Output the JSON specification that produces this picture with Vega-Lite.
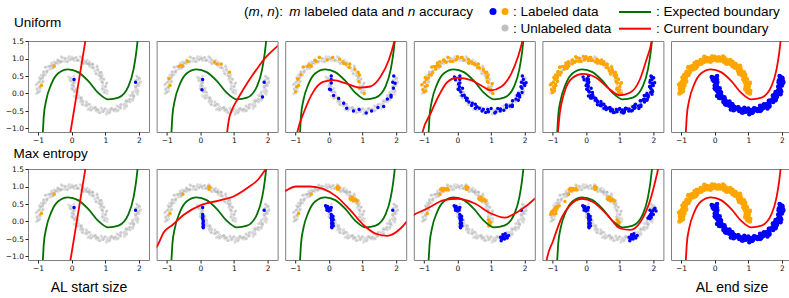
{
"$schema":"https://vega.github.io/schema/vega-lite/v6.json",
"padding":0,"background":"white","spacing":0,
"resolve":{"scale":{"x":"independent","y":"independent","color":"independent"}},
"datasets":{
"moons":[
{"x":1.05,"y":0.0,"c":0,"u":3},{"x":0.96,"y":0.05,"c":0,"u":5},{"x":1.0,"y":0.11,"c":0,"u":4},{"x":0.92,"y":0.15,"c":0,"u":3},{"x":1.01,"y":0.21,"c":0,"u":6},{"x":1.03,"y":0.28,"c":0,"u":4},{"x":0.93,"y":0.3,"c":0,"u":5},{"x":0.89,"y":0.34,"c":0,"u":3},{"x":0.95,"y":0.42,"c":0,"u":5},{"x":0.88,"y":0.45,"c":0,"u":4},
{"x":0.91,"y":0.53,"c":0,"u":3},{"x":0.81,"y":0.52,"c":0,"u":6},{"x":0.82,"y":0.59,"c":0,"u":4},{"x":0.72,"y":0.58,"c":0,"u":5},{"x":0.77,"y":0.69,"c":0,"u":3},{"x":0.76,"y":0.76,"c":0,"u":5},{"x":0.66,"y":0.73,"c":0,"u":4},{"x":0.6,"y":0.74,"c":0,"u":3},{"x":0.61,"y":0.84,"c":0,"u":6},{"x":0.54,"y":0.83,"c":0,"u":4},
{"x":0.53,"y":0.91,"c":0,"u":5},{"x":0.44,"y":0.86,"c":0,"u":3},{"x":0.41,"y":0.92,"c":0,"u":5},{"x":0.33,"y":0.87,"c":0,"u":4},{"x":0.32,"y":0.98,"c":0,"u":3},{"x":0.28,"y":1.03,"c":0,"u":6},{"x":0.2,"y":0.96,"c":0,"u":4},{"x":0.15,"y":0.94,"c":0,"u":5},{"x":0.11,"y":1.03,"c":0,"u":3},{"x":0.05,"y":0.99,"c":0,"u":5},
{"x":0.0,"y":1.05,"c":0,"u":4},{"x":-0.05,"y":0.96,"c":0,"u":3},{"x":-0.11,"y":1.0,"c":0,"u":6},{"x":-0.15,"y":0.92,"c":0,"u":4},{"x":-0.21,"y":1.01,"c":0,"u":5},{"x":-0.28,"y":1.03,"c":0,"u":3},{"x":-0.3,"y":0.93,"c":0,"u":5},{"x":-0.34,"y":0.89,"c":0,"u":4},{"x":-0.42,"y":0.95,"c":0,"u":3},{"x":-0.45,"y":0.88,"c":0,"u":6},
{"x":-0.53,"y":0.91,"c":0,"u":4},{"x":-0.52,"y":0.81,"c":0,"u":5},{"x":-0.59,"y":0.82,"c":0,"u":3},{"x":-0.58,"y":0.72,"c":0,"u":5},{"x":-0.69,"y":0.77,"c":0,"u":4},{"x":-0.76,"y":0.76,"c":0,"u":3},{"x":-0.73,"y":0.66,"c":0,"u":6},{"x":-0.74,"y":0.6,"c":0,"u":4},{"x":-0.84,"y":0.61,"c":0,"u":5},{"x":-0.83,"y":0.54,"c":0,"u":3},
{"x":-0.91,"y":0.53,"c":0,"u":5},{"x":-0.86,"y":0.44,"c":0,"u":4},{"x":-0.92,"y":0.41,"c":0,"u":3},{"x":-0.87,"y":0.33,"c":0,"u":6},{"x":-0.98,"y":0.32,"c":0,"u":4},{"x":-1.03,"y":0.28,"c":0,"u":5},{"x":-0.96,"y":0.2,"c":0,"u":3},{"x":-0.94,"y":0.15,"c":0,"u":5},{"x":-1.03,"y":0.11,"c":0,"u":4},{"x":-0.99,"y":0.05,"c":0,"u":3},
{"x":-1.05,"y":0.0,"c":0,"u":6},
{"x":0.98,"y":0.03,"c":0,"u":5},{"x":1.06,"y":0.08,"c":0,"u":6},{"x":0.91,"y":0.12,"c":0,"u":4},{"x":1.0,"y":0.19,"c":0,"u":5},{"x":0.92,"y":0.22,"c":0,"u":6},{"x":1.05,"y":0.31,"c":0,"u":5},{"x":0.91,"y":0.32,"c":0,"u":4},{"x":0.96,"y":0.4,"c":0,"u":5},{"x":0.85,"y":0.41,"c":0,"u":6},{"x":0.88,"y":0.48,"c":0,"u":4},
{"x":0.84,"y":0.51,"c":0,"u":5},{"x":0.87,"y":0.6,"c":0,"u":6},{"x":0.73,"y":0.56,"c":0,"u":5},{"x":0.78,"y":0.66,"c":0,"u":4},{"x":0.69,"y":0.65,"c":0,"u":5},{"x":0.75,"y":0.79,"c":0,"u":6},{"x":0.63,"y":0.74,"c":0,"u":4},{"x":0.63,"y":0.83,"c":0,"u":5},{"x":0.53,"y":0.78,"c":0,"u":6},{"x":0.52,"y":0.85,"c":0,"u":5},
{"x":0.47,"y":0.86,"c":0,"u":4},{"x":0.46,"y":0.96,"c":0,"u":5},{"x":0.35,"y":0.85,"c":0,"u":6},{"x":0.34,"y":0.96,"c":0,"u":4},{"x":0.27,"y":0.91,"c":0,"u":5},{"x":0.25,"y":1.06,"c":0,"u":6},{"x":0.18,"y":0.95,"c":0,"u":5},{"x":0.14,"y":1.03,"c":0,"u":4},{"x":0.07,"y":0.94,"c":0,"u":5},{"x":0.03,"y":1.0,"c":0,"u":6},
{"x":-0.03,"y":0.98,"c":0,"u":4},{"x":-0.08,"y":1.06,"c":0,"u":5},{"x":-0.12,"y":0.91,"c":0,"u":6},{"x":-0.19,"y":1.0,"c":0,"u":5},{"x":-0.22,"y":0.92,"c":0,"u":4},{"x":-0.31,"y":1.05,"c":0,"u":5},{"x":-0.32,"y":0.91,"c":0,"u":6},{"x":-0.4,"y":0.96,"c":0,"u":4},{"x":-0.41,"y":0.85,"c":0,"u":5},{"x":-0.48,"y":0.88,"c":0,"u":6},
{"x":-0.51,"y":0.84,"c":0,"u":5},{"x":-0.6,"y":0.87,"c":0,"u":4},{"x":-0.56,"y":0.73,"c":0,"u":5},{"x":-0.66,"y":0.78,"c":0,"u":6},{"x":-0.65,"y":0.69,"c":0,"u":4},{"x":-0.79,"y":0.75,"c":0,"u":5},{"x":-0.74,"y":0.63,"c":0,"u":6},{"x":-0.83,"y":0.63,"c":0,"u":5},{"x":-0.78,"y":0.53,"c":0,"u":4},{"x":-0.85,"y":0.52,"c":0,"u":5},
{"x":-0.86,"y":0.47,"c":0,"u":6},{"x":-0.96,"y":0.46,"c":0,"u":4},{"x":-0.85,"y":0.35,"c":0,"u":5},{"x":-0.96,"y":0.34,"c":0,"u":6},{"x":-0.91,"y":0.27,"c":0,"u":5},{"x":-1.06,"y":0.25,"c":0,"u":4},{"x":-0.95,"y":0.18,"c":0,"u":5},{"x":-1.03,"y":0.14,"c":0,"u":6},{"x":-0.94,"y":0.07,"c":0,"u":4},{"x":-1.0,"y":0.03,"c":0,"u":5},
{"x":0.07,"y":0.5,"c":1,"u":3},{"x":-0.03,"y":0.45,"c":1,"u":6},{"x":-0.06,"y":0.39,"c":1,"u":4},{"x":0.03,"y":0.35,"c":1,"u":5},{"x":0.07,"y":0.3,"c":1,"u":3},{"x":0.0,"y":0.23,"c":1,"u":5},{"x":0.06,"y":0.19,"c":1,"u":4},{"x":0.02,"y":0.12,"c":1,"u":3},{"x":0.12,"y":0.11,"c":1,"u":6},{"x":0.1,"y":0.04,"c":1,"u":4},
{"x":0.19,"y":0.03,"c":1,"u":5},{"x":0.14,"y":-0.06,"c":1,"u":3},{"x":0.13,"y":-0.13,"c":1,"u":5},{"x":0.24,"y":-0.12,"c":1,"u":4},{"x":0.29,"y":-0.14,"c":1,"u":3},{"x":0.26,"y":-0.24,"c":1,"u":6},{"x":0.34,"y":-0.24,"c":1,"u":4},{"x":0.34,"y":-0.32,"c":1,"u":5},{"x":0.44,"y":-0.28,"c":1,"u":3},{"x":0.45,"y":-0.35,"c":1,"u":5},
{"x":0.53,"y":-0.31,"c":1,"u":4},{"x":0.53,"y":-0.42,"c":1,"u":3},{"x":0.56,"y":-0.48,"c":1,"u":6},{"x":0.65,"y":-0.42,"c":1,"u":4},{"x":0.71,"y":-0.4,"c":1,"u":5},{"x":0.73,"y":-0.5,"c":1,"u":3},{"x":0.79,"y":-0.47,"c":1,"u":5},{"x":0.84,"y":-0.54,"c":1,"u":4},{"x":0.9,"y":-0.46,"c":1,"u":3},{"x":0.95,"y":-0.51,"c":1,"u":6},
{"x":1.0,"y":-0.43,"c":1,"u":4},{"x":1.05,"y":-0.53,"c":1,"u":5},{"x":1.11,"y":-0.56,"c":1,"u":3},{"x":1.15,"y":-0.47,"c":1,"u":5},{"x":1.2,"y":-0.43,"c":1,"u":4},{"x":1.27,"y":-0.5,"c":1,"u":3},{"x":1.31,"y":-0.44,"c":1,"u":6},{"x":1.38,"y":-0.48,"c":1,"u":4},{"x":1.39,"y":-0.38,"c":1,"u":5},{"x":1.46,"y":-0.4,"c":1,"u":3},
{"x":1.47,"y":-0.31,"c":1,"u":5},{"x":1.56,"y":-0.36,"c":1,"u":4},{"x":1.63,"y":-0.37,"c":1,"u":3},{"x":1.62,"y":-0.26,"c":1,"u":6},{"x":1.64,"y":-0.21,"c":1,"u":4},{"x":1.74,"y":-0.24,"c":1,"u":5},{"x":1.74,"y":-0.16,"c":1,"u":3},{"x":1.82,"y":-0.16,"c":1,"u":5},{"x":1.78,"y":-0.06,"c":1,"u":4},{"x":1.85,"y":-0.05,"c":1,"u":3},
{"x":1.81,"y":0.04,"c":1,"u":6},{"x":1.92,"y":0.03,"c":1,"u":4},{"x":1.98,"y":0.06,"c":1,"u":5},{"x":1.92,"y":0.15,"c":1,"u":3},{"x":1.9,"y":0.21,"c":1,"u":5},{"x":2.0,"y":0.23,"c":1,"u":4},{"x":1.97,"y":0.29,"c":1,"u":3},{"x":2.04,"y":0.34,"c":1,"u":6},{"x":1.96,"y":0.4,"c":1,"u":4},{"x":2.01,"y":0.45,"c":1,"u":5},
{"x":1.93,"y":0.5,"c":1,"u":3},
{"x":-0.09,"y":0.47,"c":1,"u":4},{"x":0.03,"y":0.42,"c":1,"u":5},{"x":-0.03,"y":0.36,"c":1,"u":6},{"x":0.08,"y":0.33,"c":1,"u":5},{"x":0.03,"y":0.27,"c":1,"u":4},{"x":0.06,"y":0.22,"c":1,"u":5},{"x":0.0,"y":0.15,"c":1,"u":6},
{"x":0.15,"y":0.15,"c":1,"u":4},{"x":0.08,"y":0.06,"c":1,"u":5},{"x":0.17,"y":0.05,"c":1,"u":6},{"x":0.07,"y":-0.07,"c":1,"u":5},{"x":0.2,"y":-0.05,"c":1,"u":4},{"x":0.17,"y":-0.13,"c":1,"u":5},{"x":0.29,"y":-0.11,"c":1,"u":6},
{"x":0.27,"y":-0.19,"c":1,"u":4},{"x":0.33,"y":-0.21,"c":1,"u":5},{"x":0.31,"y":-0.31,"c":1,"u":6},{"x":0.44,"y":-0.23,"c":1,"u":5},{"x":0.42,"y":-0.34,"c":1,"u":4},{"x":0.5,"y":-0.31,"c":1,"u":5},{"x":0.48,"y":-0.46,"c":1,"u":6},
{"x":0.58,"y":-0.38,"c":1,"u":4},{"x":0.6,"y":-0.46,"c":1,"u":5},{"x":0.69,"y":-0.39,"c":1,"u":6},{"x":0.72,"y":-0.46,"c":1,"u":5},{"x":0.77,"y":-0.45,"c":1,"u":4},{"x":0.81,"y":-0.54,"c":1,"u":5},{"x":0.88,"y":-0.41,"c":1,"u":6},
{"x":0.92,"y":-0.52,"c":1,"u":4},{"x":0.98,"y":-0.45,"c":1,"u":5},{"x":1.03,"y":-0.59,"c":1,"u":6},{"x":1.08,"y":-0.47,"c":1,"u":5},{"x":1.14,"y":-0.53,"c":1,"u":4},{"x":1.17,"y":-0.42,"c":1,"u":5},{"x":1.23,"y":-0.47,"c":1,"u":6},
{"x":1.28,"y":-0.44,"c":1,"u":4},{"x":1.35,"y":-0.5,"c":1,"u":5},{"x":1.35,"y":-0.35,"c":1,"u":6},{"x":1.44,"y":-0.42,"c":1,"u":5},{"x":1.45,"y":-0.33,"c":1,"u":4},{"x":1.57,"y":-0.43,"c":1,"u":5},{"x":1.55,"y":-0.3,"c":1,"u":6},
{"x":1.63,"y":-0.33,"c":1,"u":4},{"x":1.61,"y":-0.21,"c":1,"u":5},{"x":1.69,"y":-0.22,"c":1,"u":6},{"x":1.71,"y":-0.17,"c":1,"u":5},{"x":1.81,"y":-0.19,"c":1,"u":4},{"x":1.73,"y":-0.06,"c":1,"u":5},{"x":1.84,"y":-0.08,"c":1,"u":6},
{"x":1.81,"y":0.0,"c":1,"u":4},{"x":1.96,"y":-0.02,"c":1,"u":5},{"x":1.88,"y":0.08,"c":1,"u":6},{"x":1.96,"y":0.1,"c":1,"u":5},{"x":1.89,"y":0.19,"c":1,"u":4},{"x":1.96,"y":0.22,"c":1,"u":5},{"x":1.95,"y":0.27,"c":1,"u":6},
{"x":2.04,"y":0.31,"c":1,"u":4},{"x":1.91,"y":0.38,"c":1,"u":5},{"x":2.02,"y":0.42,"c":1,"u":6},{"x":1.95,"y":0.48,"c":1,"u":5},
{"x":-0.9,"y":0.23,"c":0,"u":1},{"x":-0.52,"y":0.78,"c":0,"u":1},{"x":0.07,"y":0.4,"c":1,"u":1},{"x":1.9,"y":0.32,"c":1,"u":1},
{"x":-0.93,"y":0.42,"c":0,"u":2},{"x":-0.63,"y":0.78,"c":0,"u":2},{"x":-0.57,"y":0.8,"c":0,"u":2},{"x":-0.38,"y":0.92,"c":0,"u":2},{"x":0.42,"y":0.9,"c":0,"u":2},{"x":0.5,"y":0.84,"c":0,"u":2},{"x":0.62,"y":0.84,"c":0,"u":2},{"x":0.87,"y":0.61,"c":0,"u":2},{"x":0.05,"y":0.11,"c":1,"u":2},{"x":1.85,"y":-0.1,"c":1,"u":2}
],
"me":[
{"x":-0.9,"y":0.23,"c":0,"lv":1},{"x":-0.52,"y":0.78,"c":0,"lv":1},{"x":0.07,"y":0.4,"c":1,"lv":1},{"x":1.9,"y":0.32,"c":1,"lv":1},
{"x":0.25,"y":1.0,"c":0,"lv":2},{"x":0.27,"y":0.96,"c":0,"lv":2},{"x":0.26,"y":0.92,"c":0,"lv":2},{"x":0.28,"y":0.98,"c":0,"lv":2},
{"x":0.07,"y":0.2,"c":1,"lv":2},{"x":0.08,"y":0.15,"c":1,"lv":2},{"x":0.07,"y":0.1,"c":1,"lv":2},{"x":0.08,"y":0.05,"c":1,"lv":2},{"x":0.09,"y":0.0,"c":1,"lv":2},{"x":0.08,"y":-0.05,"c":1,"lv":2},{"x":0.09,"y":-0.1,"c":1,"lv":2},{"x":0.08,"y":-0.15,"c":1,"lv":2},{"x":0.09,"y":-0.18,"c":1,"lv":2},
{"x":0.63,"y":0.66,"c":0,"lv":3},{"x":0.66,"y":0.62,"c":0,"lv":3},{"x":0.69,"y":0.65,"c":0,"lv":3},{"x":0.72,"y":0.6,"c":0,"lv":3},{"x":0.75,"y":0.63,"c":0,"lv":3},{"x":0.78,"y":0.6,"c":0,"lv":3},{"x":0.81,"y":0.62,"c":0,"lv":3},{"x":0.84,"y":0.58,"c":0,"lv":3},{"x":0.7,"y":0.7,"c":0,"lv":3},{"x":0.29,"y":0.93,"c":0,"lv":3},{"x":0.3,"y":0.97,"c":0,"lv":3},
{"x":-0.1,"y":0.45,"c":1,"lv":3},{"x":-0.07,"y":0.4,"c":1,"lv":3},{"x":-0.04,"y":0.43,"c":1,"lv":3},{"x":-0.02,"y":0.36,"c":1,"lv":3},{"x":0.0,"y":0.3,"c":1,"lv":3},{"x":0.03,"y":0.38,"c":1,"lv":3},{"x":0.05,"y":0.33,"c":1,"lv":3},{"x":-0.06,"y":0.32,"c":1,"lv":3},{"x":0.12,"y":0.15,"c":1,"lv":3},{"x":0.13,"y":0.05,"c":1,"lv":3},{"x":0.12,"y":-0.05,"c":1,"lv":3},{"x":0.13,"y":-0.12,"c":1,"lv":3},{"x":0.11,"y":0.1,"c":1,"lv":3},
{"x":-0.5,"y":0.92,"c":0,"lv":4},{"x":-0.46,"y":0.95,"c":0,"lv":4},{"x":-0.42,"y":0.9,"c":0,"lv":4},{"x":-0.38,"y":0.94,"c":0,"lv":4},{"x":-0.34,"y":0.91,"c":0,"lv":4},{"x":-0.3,"y":0.95,"c":0,"lv":4},{"x":-0.27,"y":0.9,"c":0,"lv":4},{"x":-0.44,"y":0.87,"c":0,"lv":4},
{"x":0.92,"y":0.05,"c":0,"lv":4},{"x":0.95,"y":0.0,"c":0,"lv":4},{"x":0.94,"y":-0.06,"c":0,"lv":4},{"x":0.97,"y":-0.1,"c":0,"lv":4},{"x":0.99,"y":-0.03,"c":0,"lv":4},{"x":0.93,"y":-0.13,"c":0,"lv":4},
{"x":1.28,"y":-0.45,"c":1,"lv":4},{"x":1.32,"y":-0.5,"c":1,"lv":4},{"x":1.36,"y":-0.44,"c":1,"lv":4},{"x":1.4,"y":-0.5,"c":1,"lv":4},{"x":1.44,"y":-0.42,"c":1,"lv":4},{"x":1.48,"y":-0.47,"c":1,"lv":4},{"x":1.52,"y":-0.4,"c":1,"lv":4},{"x":1.35,"y":-0.38,"c":1,"lv":4},{"x":1.42,"y":-0.35,"c":1,"lv":4},{"x":1.3,"y":-0.55,"c":1,"lv":4},
{"x":-1.06,"y":0.2,"c":0,"lv":5},{"x":-1.03,"y":0.27,"c":0,"lv":5},{"x":-1.0,"y":0.3,"c":0,"lv":5},{"x":-0.98,"y":0.22,"c":0,"lv":5},{"x":-0.95,"y":0.35,"c":0,"lv":5},{"x":-0.92,"y":0.38,"c":0,"lv":5},{"x":-0.88,"y":0.42,"c":0,"lv":5},{"x":-0.85,"y":0.4,"c":0,"lv":5},{"x":-0.8,"y":0.45,"c":0,"lv":5},{"x":-0.9,"y":0.3,"c":0,"lv":5},{"x":-0.63,"y":0.57,"c":0,"lv":5},
{"x":1.84,"y":0.1,"c":1,"lv":5},{"x":1.88,"y":0.15,"c":1,"lv":5},{"x":1.92,"y":0.2,"c":1,"lv":5},{"x":1.95,"y":0.25,"c":1,"lv":5},{"x":1.98,"y":0.3,"c":1,"lv":5},{"x":2.02,"y":0.35,"c":1,"lv":5},{"x":2.05,"y":0.38,"c":1,"lv":5},{"x":1.9,"y":0.08,"c":1,"lv":5},{"x":2.0,"y":0.2,"c":1,"lv":5},{"x":2.08,"y":0.3,"c":1,"lv":5},{"x":1.94,"y":0.12,"c":1,"lv":5}
],
"green":[
{"x":-0.875,"y":-1.3},{"x":-0.86,"y":-1.12},{"x":-0.83,"y":-0.64},{"x":-0.76,"y":-0.2},{"x":-0.61,"y":0.26},{"x":-0.41,"y":0.57},{"x":-0.11,"y":0.69},{"x":0.19,"y":0.61},{"x":0.49,"y":0.36},{"x":0.79,"y":0.02},{"x":1.09,"y":-0.17},{"x":1.39,"y":-0.12},{"x":1.69,"y":0.21},{"x":1.84,"y":0.69},{"x":1.92,"y":1.17},{"x":1.96,"y":1.5},{"x":1.98,"y":1.7}
],
"red":[
{"p":"1","x":-0.07,"y":-1.3},{"p":"1","x":0.44,"y":1.7},
{"p":"U2","x":0.78,"y":-1.3},{"p":"U2","x":0.8,"y":-1.1},{"p":"U2","x":0.85,"y":-0.75},{"p":"U2","x":0.95,"y":-0.45},{"p":"U2","x":1.1,"y":-0.18},{"p":"U2","x":1.3,"y":0.15},{"p":"U2","x":1.5,"y":0.45},{"p":"U2","x":1.7,"y":0.72},{"p":"U2","x":1.9,"y":0.98},{"p":"U2","x":2.1,"y":1.18},{"p":"U2","x":2.35,"y":1.4},
{"p":"U3","x":-0.98,"y":-1.3},{"p":"U3","x":-0.95,"y":-1.15},{"p":"U3","x":-0.72,"y":-0.48},{"p":"U3","x":-0.47,"y":0.04},{"p":"U3","x":-0.17,"y":0.33},{"p":"U3","x":0.13,"y":0.38},{"p":"U3","x":0.53,"y":0.28},{"p":"U3","x":0.93,"y":0.17},{"p":"U3","x":1.23,"y":0.2},{"p":"U3","x":1.53,"y":0.47},{"p":"U3","x":1.78,"y":0.95},{"p":"U3","x":1.95,"y":1.5},{"p":"U3","x":2.0,"y":1.7},
{"p":"U4","x":-1.08,"y":-1.3},{"p":"U4","x":-1.05,"y":-1.15},{"p":"U4","x":-0.8,"y":-0.57},{"p":"U4","x":-0.55,"y":-0.05},{"p":"U4","x":-0.3,"y":0.33},{"p":"U4","x":0.0,"y":0.45},{"p":"U4","x":0.4,"y":0.38},{"p":"U4","x":0.75,"y":0.2},{"p":"U4","x":1.0,"y":0.09},{"p":"U4","x":1.3,"y":0.19},{"p":"U4","x":1.6,"y":0.57},{"p":"U4","x":1.8,"y":1.05},{"p":"U4","x":1.93,"y":1.5},{"p":"U4","x":1.97,"y":1.7},
{"p":"U5","x":-0.86,"y":-1.3},{"p":"U5","x":-0.84,"y":-1.12},{"p":"U5","x":-0.78,"y":-0.55},{"p":"U5","x":-0.65,"y":0.02},{"p":"U5","x":-0.4,"y":0.45},{"p":"U5","x":-0.1,"y":0.56},{"p":"U5","x":0.3,"y":0.45},{"p":"U5","x":0.7,"y":0.12},{"p":"U5","x":1.0,"y":-0.05},{"p":"U5","x":1.3,"y":0.02},{"p":"U5","x":1.6,"y":0.4},{"p":"U5","x":1.8,"y":0.98},{"p":"U5","x":1.95,"y":1.5},{"p":"U5","x":1.98,"y":1.7},
{"p":"M2","x":-1.35,"y":-0.77},{"p":"M2","x":-1.3,"y":-0.72},{"p":"M2","x":-1.08,"y":-0.3},{"p":"M2","x":-0.83,"y":-0.1},{"p":"M2","x":-0.48,"y":0.2},{"p":"M2","x":0.02,"y":0.47},{"p":"M2","x":0.52,"y":0.59},{"p":"M2","x":1.02,"y":0.73},{"p":"M2","x":1.42,"y":0.97},{"p":"M2","x":1.72,"y":1.2},{"p":"M2","x":1.87,"y":1.39},{"p":"M2","x":1.95,"y":1.5},{"p":"M2","x":2.05,"y":1.65},
{"p":"M3","x":-1.35,"y":0.84},{"p":"M3","x":-1.3,"y":0.87},{"p":"M3","x":-0.97,"y":1.0},{"p":"M3","x":-0.57,"y":1.0},{"p":"M3","x":-0.17,"y":0.93},{"p":"M3","x":0.23,"y":0.71},{"p":"M3","x":0.63,"y":0.33},{"p":"M3","x":1.03,"y":-0.1},{"p":"M3","x":1.4,"y":-0.35},{"p":"M3","x":1.73,"y":-0.41},{"p":"M3","x":2.13,"y":-0.2},{"p":"M3","x":2.31,"y":-0.01},{"p":"M3","x":2.35,"y":0.04},
{"p":"M4","x":-1.35,"y":0.16},{"p":"M4","x":-1.3,"y":0.19},{"p":"M4","x":-0.9,"y":0.37},{"p":"M4","x":-0.4,"y":0.61},{"p":"M4","x":0.0,"y":0.65},{"p":"M4","x":0.5,"y":0.52},{"p":"M4","x":1.0,"y":0.23},{"p":"M4","x":1.4,"y":0.11},{"p":"M4","x":1.8,"y":0.28},{"p":"M4","x":2.3,"y":0.65},{"p":"M4","x":2.35,"y":0.7},
{"p":"M5","x":-1.2,"y":-1.3},{"p":"M5","x":-1.18,"y":-1.15},{"p":"M5","x":-0.98,"y":-0.55},{"p":"M5","x":-0.73,"y":0.1},{"p":"M5","x":-0.48,"y":0.46},{"p":"M5","x":-0.13,"y":0.65},{"p":"M5","x":0.22,"y":0.55},{"p":"M5","x":0.62,"y":0.2},{"p":"M5","x":1.02,"y":-0.2},{"p":"M5","x":1.32,"y":-0.24},{"p":"M5","x":1.62,"y":-0.01},{"p":"M5","x":1.92,"y":0.65},{"p":"M5","x":2.07,"y":1.2},{"p":"M5","x":2.14,"y":1.5},{"p":"M5","x":2.17,"y":1.7}
],
"hn":[{"x":216,"y":16,"t":"("},{"x":231.7,"y":16,"t":","},{"x":246.7,"y":16,"t":"):"},{"x":276.2,"y":16,"t":"labeled data and"},{"x":391,"y":16,"t":"accuracy"},{"x":485,"y":16,"t":": Labeled data"},{"x":485,"y":32.5,"t":": Unlabeled data"},{"x":628,"y":16,"t":": Expected boundary"},{"x":628,"y":32.5,"t":": Current boundary"},{"x":-14,"y":26.5,"t":"Uniform"}],
"hi":[{"x":220.5,"y":16,"t":"m"},{"x":239.2,"y":16,"t":"n"},{"x":261.2,"y":16,"t":"m"},{"x":379.7,"y":16,"t":"n"}],
"hd":[{"x":465,"y":11.5,"c":"b"},{"x":477,"y":11.5,"c":"o"},{"x":477,"y":28,"c":"g"}],
"hl":[{"x":591,"x2":623,"y":12,"c":"G"},{"x":591,"x2":623,"y":28.7,"c":"R"}]
},
"vconcat":[
{"width":762,"height":36,"view":{"stroke":null},
"encoding":{"x":{"field":"x","type":"quantitative","scale":{"domain":[0,762],"nice":false,"zero":false},"axis":null},"y":{"field":"y","type":"quantitative","scale":{"domain":[0,36],"nice":false,"zero":false,"reverse":true},"axis":null}},
"layer":[
{"data":{"name":"hn"},"mark":{"type":"text","align":"left","baseline":"alphabetic","font":"Liberation Sans","fontSize":13.5,"color":"#000"},"encoding":{"text":{"field":"t"}}},
{"data":{"name":"hi"},"mark":{"type":"text","align":"left","baseline":"alphabetic","font":"Liberation Sans","fontSize":13.5,"fontStyle":"italic","color":"#000"},"encoding":{"text":{"field":"t"}}},
{"data":{"name":"hd"},"mark":{"type":"circle","size":50,"opacity":1},"encoding":{"color":{"field":"c","type":"nominal","scale":{"domain":["b","o","g","G","R"],"range":["#0000ff","#ffa500","#c0c0c0","#007000","#ff0000"]},"legend":null}}},
{"data":{"name":"hl"},"mark":{"type":"rule","strokeWidth":2},"encoding":{"x2":{"field":"x2"},"color":{"field":"c","type":"nominal","scale":{"domain":["b","o","g","G","R"],"range":["#0000ff","#ffa500","#c0c0c0","#007000","#ff0000"]},"legend":null}}}
]},
{"hconcat":[
{"width":121,"height":91,
"encoding":{"x":{"field":"x","type":"quantitative","scale":{"domain":[-1.3,2.3],"nice":false,"zero":false},"axis":{"values":[-1,0,1,2],"format":"d","title":null,"minExtent":14,"maxExtent":14}},"y":{"field":"y","type":"quantitative","scale":{"domain":[-1.1,1.5],"nice":false,"zero":false},"axis":{"values":[-1,-0.5,0,0.5,1,1.5],"format":".1f","title":null,"minExtent":27,"maxExtent":27}}},
"layer":[
{"data":{"name":"moons"},"mark":{"type":"circle","size":9,"opacity":0.35,"color":"#a0a0a0","clip":true}},
{"data":{"name":"moons"},"transform":[{"filter":"datum.u<=1"}],"mark":{"type":"circle","size":12,"opacity":1,"clip":true},"encoding":{"color":{"field":"c","type":"nominal","scale":{"domain":[0,1],"range":["#ffa500","#0000ff"]},"legend":null}}},
{"data":{"name":"green"},"mark":{"type":"line","color":"#007000","strokeWidth":1.8,"interpolate":"monotone","clip":true}},
{"data":{"name":"red"},"transform":[{"filter":"datum.p=='1'"}],"mark":{"type":"line","color":"#ff0000","strokeWidth":1.8,"clip":true}},
{"data":{"values":[{}]},"mark":{"type":"text","text":"(4, 0.71)","align":"right","baseline":"alphabetic","font":"DejaVu Sans","fontSize":10.3,"color":"#000"},"encoding":{"x":{"datum":2.26},"y":{"datum":-1.0}}}
]},
{"width":121,"height":91,
"encoding":{"x":{"field":"x","type":"quantitative","scale":{"domain":[-1.3,2.3],"nice":false,"zero":false},"axis":{"values":[-1,0,1,2],"format":"d","title":null,"minExtent":14,"maxExtent":14}},"y":{"field":"y","type":"quantitative","scale":{"domain":[-1.1,1.5],"nice":false,"zero":false},"axis":null}},
"layer":[
{"data":{"name":"moons"},"mark":{"type":"circle","size":9,"opacity":0.35,"color":"#a0a0a0","clip":true}},
{"data":{"name":"moons"},"transform":[{"filter":"datum.u<=2"}],"mark":{"type":"circle","size":12,"opacity":1,"clip":true},"encoding":{"color":{"field":"c","type":"nominal","scale":{"domain":[0,1],"range":["#ffa500","#0000ff"]},"legend":null}}},
{"data":{"name":"green"},"mark":{"type":"line","color":"#007000","strokeWidth":1.8,"interpolate":"monotone","clip":true}},
{"data":{"name":"red"},"transform":[{"filter":"datum.p=='U2'"}],"mark":{"type":"line","color":"#ff0000","strokeWidth":1.8,"interpolate":"monotone","clip":true}},
{"data":{"values":[{}]},"mark":{"type":"text","text":"(16, 0.77)","align":"right","baseline":"alphabetic","font":"DejaVu Sans","fontSize":10.3,"color":"#000"},"encoding":{"x":{"datum":2.26},"y":{"datum":-1.0}}}
]},
{"width":121,"height":91,
"encoding":{"x":{"field":"x","type":"quantitative","scale":{"domain":[-1.3,2.3],"nice":false,"zero":false},"axis":{"values":[-1,0,1,2],"format":"d","title":null,"minExtent":14,"maxExtent":14}},"y":{"field":"y","type":"quantitative","scale":{"domain":[-1.1,1.5],"nice":false,"zero":false},"axis":null}},
"layer":[
{"data":{"name":"moons"},"mark":{"type":"circle","size":9,"opacity":0.35,"color":"#a0a0a0","clip":true}},
{"data":{"name":"moons"},"transform":[{"filter":"datum.u<=3"}],"mark":{"type":"circle","size":12,"opacity":1,"clip":true},"encoding":{"color":{"field":"c","type":"nominal","scale":{"domain":[0,1],"range":["#ffa500","#0000ff"]},"legend":null}}},
{"data":{"name":"green"},"mark":{"type":"line","color":"#007000","strokeWidth":1.8,"interpolate":"monotone","clip":true}},
{"data":{"name":"red"},"transform":[{"filter":"datum.p=='U3'"}],"mark":{"type":"line","color":"#ff0000","strokeWidth":1.8,"interpolate":"monotone","clip":true}},
{"data":{"values":[{}]},"mark":{"type":"text","text":"(64, 0.95)","align":"right","baseline":"alphabetic","font":"DejaVu Sans","fontSize":10.3,"color":"#000"},"encoding":{"x":{"datum":2.26},"y":{"datum":-1.0}}}
]},
{"width":121,"height":91,
"encoding":{"x":{"field":"x","type":"quantitative","scale":{"domain":[-1.3,2.3],"nice":false,"zero":false},"axis":{"values":[-1,0,1,2],"format":"d","title":null,"minExtent":14,"maxExtent":14}},"y":{"field":"y","type":"quantitative","scale":{"domain":[-1.1,1.5],"nice":false,"zero":false},"axis":null}},
"layer":[
{"data":{"name":"moons"},"mark":{"type":"circle","size":9,"opacity":0.35,"color":"#a0a0a0","clip":true}},
{"data":{"name":"moons"},"transform":[{"filter":"datum.u<=4"}],"mark":{"type":"circle","size":12,"opacity":1,"clip":true},"encoding":{"color":{"field":"c","type":"nominal","scale":{"domain":[0,1],"range":["#ffa500","#0000ff"]},"legend":null}}},
{"data":{"name":"green"},"mark":{"type":"line","color":"#007000","strokeWidth":1.8,"interpolate":"monotone","clip":true}},
{"data":{"name":"red"},"transform":[{"filter":"datum.p=='U4'"}],"mark":{"type":"line","color":"#ff0000","strokeWidth":1.8,"interpolate":"monotone","clip":true}},
{"data":{"values":[{}]},"mark":{"type":"text","text":"(128, 0.97)","align":"right","baseline":"alphabetic","font":"DejaVu Sans","fontSize":10.3,"color":"#000"},"encoding":{"x":{"datum":2.26},"y":{"datum":-1.0}}}
]},
{"width":121,"height":91,
"encoding":{"x":{"field":"x","type":"quantitative","scale":{"domain":[-1.3,2.3],"nice":false,"zero":false},"axis":{"values":[-1,0,1,2],"format":"d","title":null,"minExtent":14,"maxExtent":14}},"y":{"field":"y","type":"quantitative","scale":{"domain":[-1.1,1.5],"nice":false,"zero":false},"axis":null}},
"layer":[
{"data":{"name":"moons"},"mark":{"type":"circle","size":9,"opacity":0.35,"color":"#a0a0a0","clip":true}},
{"data":{"name":"moons"},"transform":[{"filter":"datum.u<=5"}],"mark":{"type":"circle","size":12,"opacity":1,"clip":true},"encoding":{"color":{"field":"c","type":"nominal","scale":{"domain":[0,1],"range":["#ffa500","#0000ff"]},"legend":null}}},
{"data":{"name":"green"},"mark":{"type":"line","color":"#007000","strokeWidth":1.8,"interpolate":"monotone","clip":true}},
{"data":{"name":"red"},"transform":[{"filter":"datum.p=='U5'"}],"mark":{"type":"line","color":"#ff0000","strokeWidth":1.8,"interpolate":"monotone","clip":true}},
{"data":{"values":[{}]},"mark":{"type":"text","text":"(256, 1.00)","align":"right","baseline":"alphabetic","font":"DejaVu Sans","fontSize":10.3,"color":"#000"},"encoding":{"x":{"datum":2.26},"y":{"datum":-1.0}}}
]},
{"width":121,"height":91,
"encoding":{"x":{"field":"x","type":"quantitative","scale":{"domain":[-1.3,2.3],"nice":false,"zero":false},"axis":{"values":[-1,0,1,2],"format":"d","title":null,"minExtent":14,"maxExtent":14}},"y":{"field":"y","type":"quantitative","scale":{"domain":[-1.1,1.5],"nice":false,"zero":false},"axis":null}},
"layer":[
{"data":{"name":"moons"},"mark":{"type":"circle","size":20,"opacity":1,"clip":true},"encoding":{"color":{"field":"c","type":"nominal","scale":{"domain":[0,1],"range":["#ffa500","#0000ff"]},"legend":null}}},
{"data":{"name":"green"},"mark":{"type":"line","color":"#ff0000","strokeWidth":1.8,"interpolate":"monotone","clip":true}},
{"data":{"values":[{}]},"mark":{"type":"text","text":"(1500, 1.00)","align":"right","baseline":"alphabetic","font":"DejaVu Sans","fontSize":10.3,"color":"#000"},"encoding":{"x":{"datum":2.26},"y":{"datum":-1.0}}}
]}
],"spacing":5.6,"resolve":{"scale":{"x":"independent","y":"independent"}}},
{"title":{"text":"Max entropy","anchor":"start","dx":13,"font":"Liberation Sans","fontSize":13.5,"fontWeight":"normal","color":"#000","offset":4},
"hconcat":[
{"width":121,"height":91,
"encoding":{"x":{"field":"x","type":"quantitative","scale":{"domain":[-1.3,2.3],"nice":false,"zero":false},"axis":{"values":[-1,0,1,2],"format":"d","title":"AL start size","titlePadding":8}},"y":{"field":"y","type":"quantitative","scale":{"domain":[-1.1,1.5],"nice":false,"zero":false},"axis":{"values":[-1,-0.5,0,0.5,1,1.5],"format":".1f","title":null,"minExtent":27,"maxExtent":27}}},
"layer":[
{"data":{"name":"moons"},"mark":{"type":"circle","size":9,"opacity":0.35,"color":"#a0a0a0","clip":true}},
{"data":{"name":"me"},"transform":[{"filter":"datum.lv<=1"}],"mark":{"type":"circle","size":12,"opacity":1,"clip":true},"encoding":{"color":{"field":"c","type":"nominal","scale":{"domain":[0,1],"range":["#ffa500","#0000ff"]},"legend":null}}},
{"data":{"name":"green"},"mark":{"type":"line","color":"#007000","strokeWidth":1.8,"interpolate":"monotone","clip":true}},
{"data":{"name":"red"},"transform":[{"filter":"datum.p=='1'"}],"mark":{"type":"line","color":"#ff0000","strokeWidth":1.8,"clip":true}},
{"data":{"values":[{}]},"mark":{"type":"text","text":"(4, 0.71)","align":"right","baseline":"alphabetic","font":"DejaVu Sans","fontSize":10.3,"color":"#000"},"encoding":{"x":{"datum":2.26},"y":{"datum":-1.0}}}
]},
{"width":121,"height":91,
"encoding":{"x":{"field":"x","type":"quantitative","scale":{"domain":[-1.3,2.3],"nice":false,"zero":false},"axis":{"values":[-1,0,1,2],"format":"d","title":null}},"y":{"field":"y","type":"quantitative","scale":{"domain":[-1.1,1.5],"nice":false,"zero":false},"axis":null}},
"layer":[
{"data":{"name":"moons"},"mark":{"type":"circle","size":9,"opacity":0.35,"color":"#a0a0a0","clip":true}},
{"data":{"name":"me"},"transform":[{"filter":"datum.lv<=2"}],"mark":{"type":"circle","size":12,"opacity":1,"clip":true},"encoding":{"color":{"field":"c","type":"nominal","scale":{"domain":[0,1],"range":["#ffa500","#0000ff"]},"legend":null}}},
{"data":{"name":"green"},"mark":{"type":"line","color":"#007000","strokeWidth":1.8,"interpolate":"monotone","clip":true}},
{"data":{"name":"red"},"transform":[{"filter":"datum.p=='M2'"}],"mark":{"type":"line","color":"#ff0000","strokeWidth":1.8,"interpolate":"monotone","clip":true}},
{"data":{"values":[{}]},"mark":{"type":"text","text":"(16, 0.86)","align":"right","baseline":"alphabetic","font":"DejaVu Sans","fontSize":10.3,"color":"#000"},"encoding":{"x":{"datum":2.26},"y":{"datum":-1.0}}}
]},
{"width":121,"height":91,
"encoding":{"x":{"field":"x","type":"quantitative","scale":{"domain":[-1.3,2.3],"nice":false,"zero":false},"axis":{"values":[-1,0,1,2],"format":"d","title":null}},"y":{"field":"y","type":"quantitative","scale":{"domain":[-1.1,1.5],"nice":false,"zero":false},"axis":null}},
"layer":[
{"data":{"name":"moons"},"mark":{"type":"circle","size":9,"opacity":0.35,"color":"#a0a0a0","clip":true}},
{"data":{"name":"me"},"transform":[{"filter":"datum.lv<=3"}],"mark":{"type":"circle","size":12,"opacity":1,"clip":true},"encoding":{"color":{"field":"c","type":"nominal","scale":{"domain":[0,1],"range":["#ffa500","#0000ff"]},"legend":null}}},
{"data":{"name":"green"},"mark":{"type":"line","color":"#007000","strokeWidth":1.8,"interpolate":"monotone","clip":true}},
{"data":{"name":"red"},"transform":[{"filter":"datum.p=='M3'"}],"mark":{"type":"line","color":"#ff0000","strokeWidth":1.8,"interpolate":"monotone","clip":true}},
{"data":{"values":[{}]},"mark":{"type":"text","text":"(64, 0.61)","align":"right","baseline":"alphabetic","font":"DejaVu Sans","fontSize":10.3,"color":"#000"},"encoding":{"x":{"datum":2.26},"y":{"datum":-1.0}}}
]},
{"width":121,"height":91,
"encoding":{"x":{"field":"x","type":"quantitative","scale":{"domain":[-1.3,2.3],"nice":false,"zero":false},"axis":{"values":[-1,0,1,2],"format":"d","title":null}},"y":{"field":"y","type":"quantitative","scale":{"domain":[-1.1,1.5],"nice":false,"zero":false},"axis":null}},
"layer":[
{"data":{"name":"moons"},"mark":{"type":"circle","size":9,"opacity":0.35,"color":"#a0a0a0","clip":true}},
{"data":{"name":"me"},"transform":[{"filter":"datum.lv<=4"}],"mark":{"type":"circle","size":12,"opacity":1,"clip":true},"encoding":{"color":{"field":"c","type":"nominal","scale":{"domain":[0,1],"range":["#ffa500","#0000ff"]},"legend":null}}},
{"data":{"name":"green"},"mark":{"type":"line","color":"#007000","strokeWidth":1.8,"interpolate":"monotone","clip":true}},
{"data":{"name":"red"},"transform":[{"filter":"datum.p=='M4'"}],"mark":{"type":"line","color":"#ff0000","strokeWidth":1.8,"interpolate":"monotone","clip":true}},
{"data":{"values":[{}]},"mark":{"type":"text","text":"(128, 0.86)","align":"right","baseline":"alphabetic","font":"DejaVu Sans","fontSize":10.3,"color":"#000"},"encoding":{"x":{"datum":2.26},"y":{"datum":-1.0}}}
]},
{"width":121,"height":91,
"encoding":{"x":{"field":"x","type":"quantitative","scale":{"domain":[-1.3,2.3],"nice":false,"zero":false},"axis":{"values":[-1,0,1,2],"format":"d","title":null}},"y":{"field":"y","type":"quantitative","scale":{"domain":[-1.1,1.5],"nice":false,"zero":false},"axis":null}},
"layer":[
{"data":{"name":"moons"},"mark":{"type":"circle","size":9,"opacity":0.35,"color":"#a0a0a0","clip":true}},
{"data":{"name":"me"},"transform":[{"filter":"datum.lv<=5"}],"mark":{"type":"circle","size":12,"opacity":1,"clip":true},"encoding":{"color":{"field":"c","type":"nominal","scale":{"domain":[0,1],"range":["#ffa500","#0000ff"]},"legend":null}}},
{"data":{"name":"green"},"mark":{"type":"line","color":"#007000","strokeWidth":1.8,"interpolate":"monotone","clip":true}},
{"data":{"name":"red"},"transform":[{"filter":"datum.p=='M5'"}],"mark":{"type":"line","color":"#ff0000","strokeWidth":1.8,"interpolate":"monotone","clip":true}},
{"data":{"values":[{}]},"mark":{"type":"text","text":"(256, 1.00)","align":"right","baseline":"alphabetic","font":"DejaVu Sans","fontSize":10.3,"color":"#000"},"encoding":{"x":{"datum":2.26},"y":{"datum":-1.0}}}
]},
{"width":121,"height":91,
"encoding":{"x":{"field":"x","type":"quantitative","scale":{"domain":[-1.3,2.3],"nice":false,"zero":false},"axis":{"values":[-1,0,1,2],"format":"d","title":"AL end size","titlePadding":8}},"y":{"field":"y","type":"quantitative","scale":{"domain":[-1.1,1.5],"nice":false,"zero":false},"axis":null}},
"layer":[
{"data":{"name":"moons"},"mark":{"type":"circle","size":20,"opacity":1,"clip":true},"encoding":{"color":{"field":"c","type":"nominal","scale":{"domain":[0,1],"range":["#ffa500","#0000ff"]},"legend":null}}},
{"data":{"name":"green"},"mark":{"type":"line","color":"#ff0000","strokeWidth":1.8,"interpolate":"monotone","clip":true}},
{"data":{"values":[{}]},"mark":{"type":"text","text":"(1500, 1.00)","align":"right","baseline":"alphabetic","font":"DejaVu Sans","fontSize":10.3,"color":"#000"},"encoding":{"x":{"datum":2.26},"y":{"datum":-1.0}}}
]}
],"spacing":5.6,"resolve":{"scale":{"x":"independent","y":"independent"}}}
],
"config":{
"view":{"stroke":"#808080","strokeWidth":1},
"axis":{"grid":false,"domain":false,"ticks":true,"tickColor":"#222","tickSize":3,"labelFont":"DejaVu Sans","labelFontSize":7.5,"labelColor":"#111","labelPadding":1.5,"titleFont":"Liberation Sans","titleFontSize":14,"titleFontWeight":"normal","titleColor":"#000"},
"title":{"font":"Liberation Sans","fontSize":13.5,"fontWeight":"normal","anchor":"start"}
}
}
